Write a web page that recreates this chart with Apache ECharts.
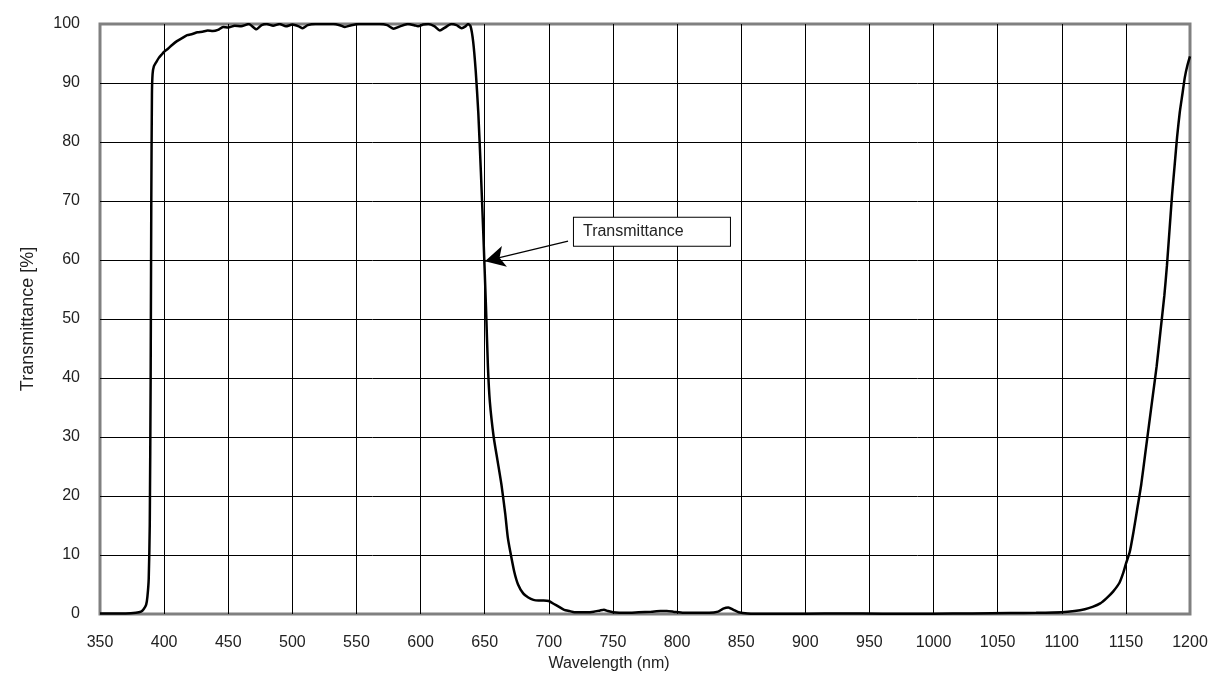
<!DOCTYPE html>
<html>
<head>
<meta charset="utf-8">
<script src="https://cdn.jsdelivr.net/npm/echarts@6/dist/echarts.min.js"></script>
<style>
html,body{margin:0;padding:0;background:#fff;}
#chart{width:1219px;height:693px;}
</style>
</head>
<body>
<div id="chart"></div>
<script>
const wavelengths = [350, 360, 370, 378, 382, 384, 386, 387, 388, 388.8, 389.5, 390, 390.5, 391, 392, 394, 396, 398, 400, 403, 406, 410, 414, 418, 422, 426, 430, 434, 438, 442, 446, 450, 455, 460, 466, 472, 476, 480, 485, 490, 495, 500, 505, 508, 512, 518, 525, 532, 537, 541, 546, 552, 560, 568, 574, 579, 584, 590, 595, 598, 602, 606, 611, 615, 619, 624, 628, 632, 635, 637, 639, 641, 643, 645, 647, 649, 651, 652.5, 654, 657, 660, 663, 666, 668, 670, 673, 676, 680, 684, 688, 692, 696, 700, 704, 708, 712, 716, 720, 725, 730, 735, 740, 743, 746, 750, 760, 770, 780, 787, 792, 797, 805, 815, 825, 832, 836, 840, 844, 848, 855, 870, 900, 930, 960, 1000, 1030, 1060, 1080, 1100, 1110, 1118, 1124, 1130, 1135, 1140, 1145, 1148, 1150, 1153, 1156, 1159, 1162, 1165, 1168, 1171, 1174, 1177, 1180, 1182, 1184, 1186, 1188, 1190, 1192, 1194, 1196, 1198, 1200];
const transmittance = [0.1, 0.1, 0.1, 0.2, 0.4, 0.8, 1.6, 3, 6, 15, 40, 70, 88, 91.5, 92.8, 93.6, 94.3, 94.8, 95.3, 95.8, 96.4, 97.1, 97.6, 98.1, 98.3, 98.6, 98.7, 98.9, 98.8, 99.0, 99.5, 99.4, 99.7, 99.6, 100, 99.1, 99.8, 100, 99.7, 100, 99.6, 99.9, 99.6, 99.3, 99.8, 100, 100, 100, 99.8, 99.5, 99.8, 100, 100, 100, 99.8, 99.2, 99.6, 100, 99.8, 99.6, 99.9, 100, 99.6, 98.9, 99.4, 100, 99.8, 99.3, 99.6, 100, 99.6, 97, 92, 85, 75, 64, 52, 42, 36, 30, 26, 22, 17, 13, 10.5, 7.2, 5, 3.5, 2.8, 2.4, 2.3, 2.3, 2.2, 1.7, 1.2, 0.7, 0.5, 0.3, 0.3, 0.3, 0.4, 0.6, 0.7, 0.5, 0.3, 0.2, 0.3, 0.4, 0.5, 0.5, 0.4, 0.2, 0.2, 0.2, 0.4, 0.9, 1.1, 0.7, 0.3, 0.1, 0.05, 0.05, 0.1, 0.05, 0.05, 0.1, 0.15, 0.2, 0.3, 0.5, 0.8, 1.2, 1.8, 2.7, 3.8, 5.3, 7, 8.5, 10.5, 14, 18, 22, 27, 32, 37, 42, 48, 54, 59, 65, 71, 76, 81, 85, 88, 91, 93, 94.5];
const xTicks = {min: 350, max: 1200, step: 50};
const yTicks = {min: 0, max: 100, step: 10};
const seriesName = 'Transmittance';
const xTitle = 'Wavelength (nm)';
const yTitle = 'Transmittance [%]';

const points = wavelengths.map((w, i) => [w, transmittance[i]]);
const FONT = '"Liberation Sans", Arial, sans-serif';

const chart = echarts.init(document.getElementById('chart'), null, {renderer: 'canvas'});
chart.setOption({
  animation: false,
  backgroundColor: '#ffffff',
  grid: {left: 100, right: 29, top: 24, bottom: 79, show: true, borderColor: '#808080', borderWidth: 3, backgroundColor: 'transparent'},
  xAxis: {
    type: 'value', min: xTicks.min, max: xTicks.max, interval: xTicks.step,
    name: xTitle, nameLocation: 'middle', nameGap: 35,
    nameTextStyle: {fontFamily: FONT, fontSize: 16, color: '#222', padding: [0, 72, 0, 0]},
    axisLine: {show: false}, axisTick: {show: false},
    axisLabel: {fontFamily: FONT, fontSize: 16, color: '#222', margin: 21, formatter: v => String(v)},
    splitLine: {show: true, showMinLine: false, showMaxLine: false, lineStyle: {color: '#000', width: 1}}
  },
  yAxis: {
    type: 'value', min: yTicks.min, max: yTicks.max, interval: yTicks.step,
    name: yTitle, nameLocation: 'middle', nameGap: 63, nameRotate: 90,
    nameTextStyle: {fontFamily: FONT, fontSize: 18, color: '#222'},
    axisLine: {show: false}, axisTick: {show: false},
    axisLabel: {fontFamily: FONT, fontSize: 16, color: '#222', margin: 20, formatter: v => String(v)},
    splitLine: {show: true, showMinLine: false, showMaxLine: false, lineStyle: {color: '#000', width: 1}}
  },
  series: [{
    name: seriesName,
    type: 'line',
    data: points,
    showSymbol: false,
    smooth: 0.2,
    lineStyle: {color: '#000', width: 2.5},
    z: 5,
    markLine: {
      silent: true,
      symbol: ['none', 'arrow'],
      symbolSize: [16, 20],
      label: {show: false},
      lineStyle: {color: '#000', width: 1.2, type: 'solid'},
      data: [[{coord: [715, 63.2]}, {coord: [650.2, 59.8]}]]
    },
    markPoint: {
      silent: true,
      symbol: 'circle',
      symbolSize: 0,
      data: [{
        coord: [719.6, 64.8],
        label: {
          show: true, position: 'inside', formatter: seriesName,
          fontFamily: FONT, fontSize: 16, color: '#222',
          backgroundColor: '#fff', borderColor: '#000', borderWidth: 1,
          width: 139, align: 'left', lineHeight: 17, padding: [6, 8, 5, 9]
        }
      }]
    }
  }]
});
</script>
</body>
</html>
